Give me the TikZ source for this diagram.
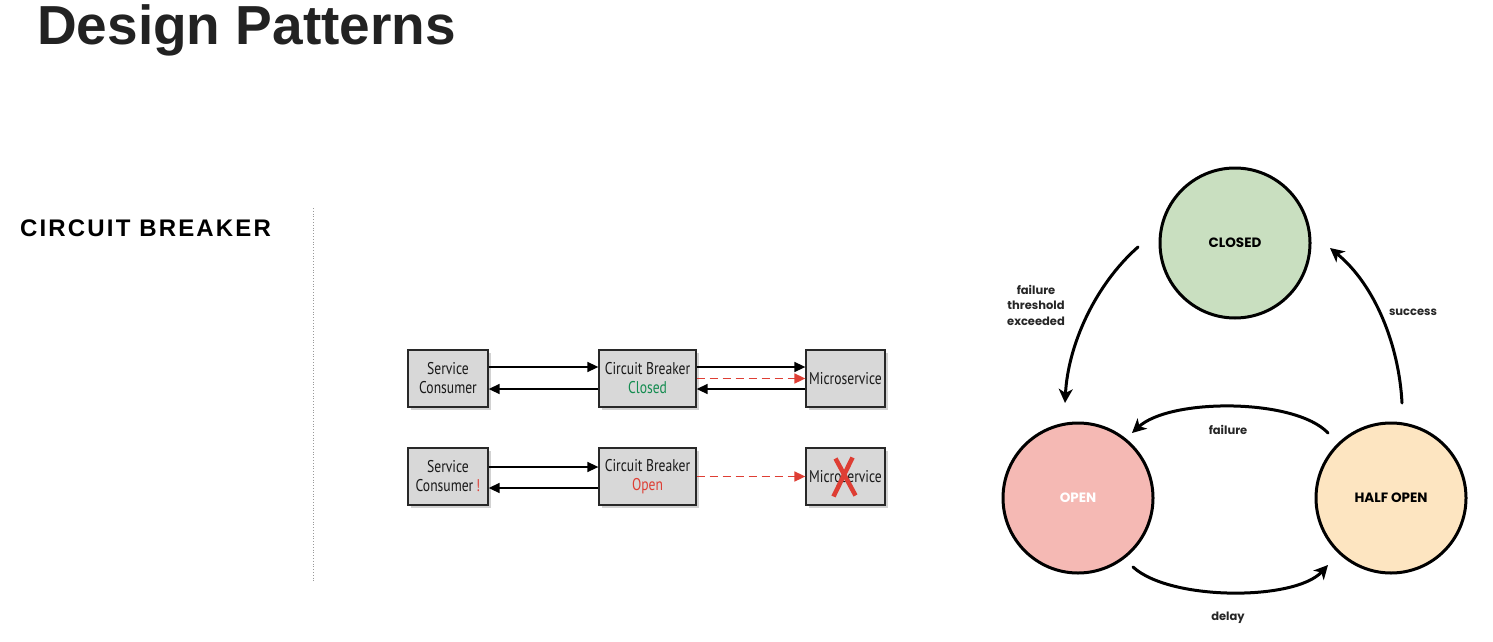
\documentclass[tikz,border=0pt]{standalone}
\usepackage{fontspec}
\setmainfont{Liberation Sans}
\newfontfamily\cbfont{PT Sans}[FakeStretch=0.8]
\newfontfamily\rfont{Poppins}
\usetikzlibrary{arrows.meta,shadows,calc}
\definecolor{titlegray}{RGB}{34,34,34}
\definecolor{boxgray}{RGB}{216,216,216}
\definecolor{boxline}{RGB}{40,40,40}
\definecolor{cbgreen}{RGB}{20,140,80}
\definecolor{cbred}{RGB}{222,62,52}
\definecolor{closedfill}{RGB}{201,223,192}
\definecolor{openfill}{RGB}{245,185,180}
\definecolor{halffill}{RGB}{253,229,193}
\begin{document}
\begin{tikzpicture}[x=1pt,y=-1pt,
  cbbox/.style={draw=boxline,line width=1.3pt,fill=boxgray,inner sep=0pt,
    minimum height=57pt,align=center,font=\cbfont\fontsize{17}{19}\selectfont,text=black!90,
    drop shadow={opacity=0.35,shadow xshift=2.5pt,shadow yshift=-2.5pt}},
  blk/.style={line width=1.5pt,-{Triangle[length=11pt,width=10pt]}},
  reddash/.style={line width=1.7pt,cbred,dash pattern=on 8pt off 5pt,-{Triangle[length=11pt,width=10pt]}},
  state/.style={circle,draw=black,line width=3pt,minimum size=150pt,inner sep=0pt,
    font=\rfont\bfseries\fontsize{13.5}{15}\selectfont},
  sarrow/.style={line width=3pt,line cap=round,-{Stealth[length=14pt,width=14pt,inset=4pt]}},
  slabel/.style={font=\rfont\bfseries\fontsize{11.5}{15.5}\selectfont,align=center,text=black!85}
]
\useasboundingbox (0,0) rectangle (1493,642);
\fill[white] (0,0) rectangle (1493,642);

% title and section label
\node[anchor=base west,inner sep=0pt,text=titlegray,font=\fontsize{55}{55}\selectfont\bfseries] (title) at (37,45) {Design Patterns};
\node[anchor=base west,inner sep=0pt,font=\fontsize{24}{24}\selectfont\bfseries\addfontfeatures{LetterSpace=9}] (sect) at (20,236) {CIRCUIT BREAKER};
\coordinate (divtop) at (313,208);
\coordinate (divbot) at (313,582);
\draw[gray!80,line width=0.8pt,dotted] (divtop) -- (divbot);

% left diagram, row 1
\node[cbbox,minimum width=80pt] (sc1) at (448,378.5) {Service\\Consumer};
\node[cbbox,minimum width=97pt] (cb1) at (647.5,378.5) {Circuit Breaker\\\textcolor{cbgreen}{Closed}};
\node[cbbox,minimum width=79pt] (ms1) at (845.5,378.5) {Microservice};
\draw[blk] ([yshift=11.5pt]sc1.east) -- ([yshift=11.5pt]cb1.west);
\draw[blk] ([yshift=-10.5pt]cb1.west) -- ([yshift=-10.5pt]sc1.east);
\draw[blk] ([yshift=11.5pt]cb1.east) -- ([yshift=11.5pt]ms1.west);
\draw[reddash] (cb1.east) -- (ms1.west);
\draw[blk] ([yshift=-10.5pt]ms1.west) -- ([yshift=-10.5pt]cb1.east);

% left diagram, row 2
\node[cbbox,minimum width=80pt] (sc2) at (448,476.5) {Service\\Consumer\,\textcolor{cbred}{!}};
\node[cbbox,minimum width=97pt] (cb2) at (647.5,476.5) {Circuit Breaker\\\textcolor{cbred}{Open}};
\node[cbbox,minimum width=79pt] (ms2) at (845.5,476.5) {Microservice};
\draw[blk] ([yshift=9.5pt]sc2.east) -- ([yshift=9.5pt]cb2.west);
\draw[blk] ([yshift=-11.5pt]cb2.west) -- ([yshift=-11.5pt]sc2.east);
\draw[reddash] (cb2.east) -- (ms2.west);
\draw[cbred,line width=4.5pt] ($(ms2)+(-10,-18)$) -- ($(ms2)+(10,19)$);
\draw[cbred,line width=4.5pt] ($(ms2)+(7,-19)$) -- ($(ms2)+(-12,20)$);

% right diagram
\node[state,fill=closedfill] (closed) at (1235,243) {CLOSED};
\node[state,fill=openfill,text=white] (open) at (1078,498) {OPEN};
\node[state,fill=halffill] (half) at (1391,498) {HALF OPEN};

\draw[sarrow] ($(closed)+(-97,4)$) .. controls (1095,285) and (1068,345) .. ($(open)+(-13,-95)$);
\draw[sarrow] ($(half)+(11,-95)$) .. controls (1399,345) and (1375,285) .. ($(closed)+(95,5)$);
\draw[sarrow] ($(half)+(-63,-65)$) .. controls (1295,398) and (1170,398) .. ($(open)+(54,-65)$);
\draw[sarrow] ($(open)+(55,69)$) .. controls (1170,601) and (1295,601) .. ($(half)+(-63,67)$);

\node[slabel] (lft) at (1036,305) {failure\\threshold\\exceeded};
\node[slabel] (lsucc) at (1413,312) {success};
\node[slabel] (lfail) at (1228,430) {failure};
\node[slabel] (ldelay) at (1228,618) {delay};
\end{tikzpicture}
\end{document}
